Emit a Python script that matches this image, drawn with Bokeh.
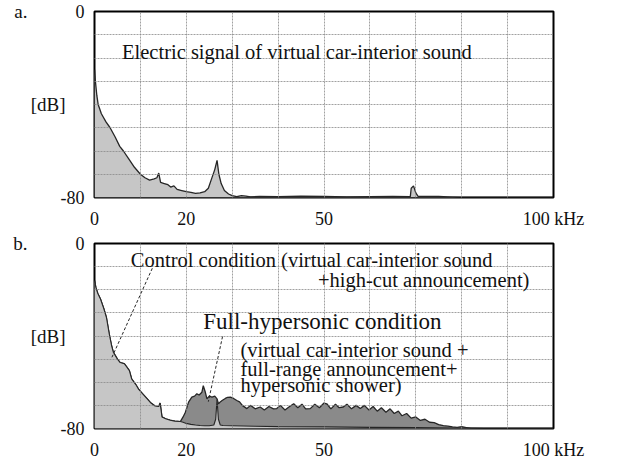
from bokeh.plotting import figure
from bokeh.layouts import column
from bokeh.models import FixedTicker, Label, Range1d, LinearAxis
from bokeh.embed import file_html
from bokeh.resources import INLINE

# ---------------- data ----------------
# Panel a: electric signal of virtual car-interior sound (kHz, dB)
freq_a = [0, 0.2, 0.5, 0.8, 1.5, 2.5, 3.4, 4.5, 5.5, 6.3, 7.5, 8.7, 10, 11, 12, 13, 13.6, 14, 14.4, 15.2,
          16, 16.6, 17.3, 18, 19, 20, 21, 22, 23, 24, 24.8, 25.5, 26.2, 26.7, 27.1, 27.6, 28.3, 29.2, 30, 31,
          32, 33, 34, 36, 40, 45, 50, 55, 60, 65, 68.8, 69, 69.5, 70, 70.5, 75, 78, 80, 100]
level_a = [-25, -30, -36, -40, -44, -47.5, -50, -54, -58, -60, -63.5, -67, -70, -71.5, -72.5, -72, -71.5, -69.5, -73.5, -74,
           -74.5, -75.5, -75, -76.5, -77, -77.5, -77.8, -78.2, -78, -77.5, -76, -72, -68, -64, -70, -74, -77, -78.5, -79.2, -79.6,
           -79.2, -79.4, -79.7, -79.5, -79.6, -79.4, -79.5, -79.7, -79.6, -79.5, -79.6, -76, -75, -78, -79.5, -79.5, -79.8, -80, -80]

# Panel b: full-hypersonic condition
freq_full = [0, 0.3, 0.7, 1.3, 2, 2.6, 3.2, 3.7, 4.1, 5, 5.6, 6.5, 7.1, 7.6, 8.1, 9, 9.6, 10.5, 11.4, 12.3, 13.2, 14,
             14.3, 14.7, 15.5, 16.5, 17.5, 18.7, 19.3, 19.8, 20.5, 21.2, 21.8, 22.3, 22.8, 23.4, 23.7, 24.1, 24.5, 25, 25.6, 26.2,
             26.7, 27, 27.4, 27.8, 28.5, 29, 29.6, 30.3, 31, 31.6, 32.2, 33.2, 34, 35, 36.1, 37, 38, 39, 39.7, 40.5,
             41.5, 42.5, 43.4, 44.3, 45.2, 46, 47, 48, 49, 50, 50.6, 51.5, 52.5, 53.3, 54.2, 55, 56, 57, 57.9, 58.8,
             59.8, 60.7, 61.6, 62.5, 63.5, 64.4, 65.3, 66.2, 67, 68, 69, 70, 71, 72, 73, 74, 75, 76, 77, 78,
             79, 80, 81, 82, 100]
level_full = [-16, -19, -21.5, -24, -28, -32, -39, -44, -47, -50, -51.5, -52, -53.6, -55, -58.6, -61, -63, -65, -67, -69, -70.3, -70.5,
              -69, -75, -75.8, -76.4, -76.8, -77, -75, -73, -68.6, -66.4, -66, -65, -65.5, -64.3, -61.5, -64, -67.2, -66, -66.4, -66,
              -67.2, -69.3, -68.5, -67.9, -67, -66.5, -66.4, -67, -67.9, -68.5, -70, -71.4, -70, -71.5, -70.7, -72, -70.5, -71.5, -71.4, -70,
              -72, -70.5, -69.3, -71, -69.5, -71.5, -71.4, -69.5, -71, -69, -69.3, -71.5, -69.5, -71, -70.7, -69.5, -71.5, -70, -71.4, -70,
              -72, -70.5, -72.5, -71, -73, -71.5, -73.5, -72.5, -74.5, -73.5, -75.5, -75, -76.5, -76, -77.3, -77.5, -78.3, -78.8, -79, -79.3,
              -79.5, -79.2, -79.6, -80, -80]

# Panel b: control condition
freq_ctrl = [0, 0.3, 0.7, 1.3, 2, 2.6, 3.2, 3.7, 4.1, 5, 5.6, 6.5, 7.1, 7.6, 8.1, 9, 9.6, 10.5, 11.4, 12.3, 13.2, 14,
             14.3, 14.7, 15.5, 16.5, 17.5, 18.7, 19.3, 20, 21, 22, 23, 24, 25, 26, 26.4, 26.7, 27, 27.4, 28, 30,
             35, 40, 50, 60, 70, 80, 85, 100]
level_ctrl = [-16, -19, -21.5, -24, -28, -32, -39, -44, -47, -50, -51.5, -52, -53.6, -55, -58.6, -61, -63, -65, -67, -69, -70.3, -70.5,
              -69, -75, -75.8, -76.4, -76.8, -77, -77.3, -77.8, -78.2, -78.5, -78.7, -78.8, -78.8, -78.5, -76, -67.5, -76, -78.5, -78.7, -78.8,
              -79, -79.2, -79.3, -79.5, -79.6, -79.8, -80, -80]

x_ticks = [0, 20, 50, 100]
x_tick_labels = ["0", "20", "50", "100 kHz"]
y_ticks = [-80, 0]
y_tick_labels = ["-80", "0"]
grid_x = [0, 10, 20, 30, 40, 50, 60, 70, 80, 90, 100]
grid_y = [-80, -70, -60, -50, -40, -30, -20, -10, 0]

FONT = "Liberation Serif"
LIGHT = "#c6c6c6"
DARK = "#8a8a8a"
EDGE = "#262626"
INK = "#111111"


def set_opt(obj, name, val):
    try:
        setattr(obj, name, val)
    except AttributeError:
        pass


def make_panel(height, top, bottom, letter):
    p = figure(width=620, height=height, x_range=Range1d(0, 100), y_range=Range1d(-80, 0),
               output_backend="svg", toolbar_location=None,
               min_border_left=94, min_border_right=67, min_border_top=top, min_border_bottom=bottom)
    p.background_fill_color = "white"
    p.border_fill_color = "white"
    p.outline_line_color = "black"
    p.outline_line_width = 2
    for ax in (p.xaxis[0], p.yaxis[0]):
        ax.axis_line_color = None
        ax.major_tick_line_color = None
        ax.minor_tick_line_color = None
        ax.major_label_text_font = FONT
        ax.major_label_text_font_size = "18px"
        ax.major_label_text_color = INK
    p.xaxis.ticker = FixedTicker(ticks=x_ticks)
    p.xaxis.major_label_overrides = {t: l for t, l in zip(x_ticks, x_tick_labels)}
    p.xaxis.major_label_standoff = 5
    p.yaxis.ticker = FixedTicker(ticks=y_ticks)
    p.yaxis.major_label_overrides = {t: l for t, l in zip(y_ticks, y_tick_labels)}
    p.yaxis.major_label_standoff = 4
    # "[dB]" as the y-axis title, written horizontally
    yax = p.yaxis[0]
    yax.axis_label = "[dB]"
    yax.axis_label_text_font = FONT
    yax.axis_label_text_font_size = "19px"
    yax.axis_label_text_font_style = "normal"
    yax.axis_label_text_color = INK
    yax.axis_label_standoff = -8
    set_opt(yax, "axis_label_orientation", "horizontal")
    # panel letter on an outer, tick-less axis
    lax = LinearAxis(ticker=FixedTicker(ticks=[]), axis_label=letter,
                     axis_line_color=None, major_tick_line_color=None, minor_tick_line_color=None,
                     major_label_text_font_size="0px", major_label_standoff=0,
                     axis_label_text_font=FONT, axis_label_text_font_size="19px",
                     axis_label_text_font_style="normal", axis_label_text_color=INK,
                     axis_label_standoff=0)
    set_opt(lax, "axis_label_orientation", "horizontal")
    set_opt(lax, "axis_label_align", "end")
    p.add_layout(lax, "left")
    p.xgrid.ticker = FixedTicker(ticks=grid_x)
    p.ygrid.ticker = FixedTicker(ticks=grid_y)
    p.grid.grid_line_color = "#8a8a8a"
    p.grid.grid_line_width = 1
    p.grid.grid_line_dash = "2 1"
    p.grid.grid_line_alpha = 0.8
    p.grid.level = "annotation"
    return p


# ---------- panel a ----------
pa = make_panel(231, 11, 26, "a.")
pa.varea(x=freq_a, y1=-80, y2=level_a, fill_color=LIGHT)
pa.line(x=freq_a, y=level_a, line_color=EDGE, line_width=1.3)
pa.add_layout(Label(x=6.0, y=-17.3, text="Electric signal of virtual car-interior sound",
                    text_align="left", text_baseline="middle", text_font=FONT,
                    text_font_size="20.5px", text_color=INK))

# ---------- panel b ----------
pb = make_panel(231, 12, 32, "b.")
pb.varea(x=freq_full, y1=-80, y2=level_full, fill_color=DARK)
pb.line(x=freq_full, y=level_full, line_color=EDGE, line_width=1.3)
pb.varea(x=freq_ctrl, y1=-80, y2=level_ctrl, fill_color=LIGHT)
pb.line(x=freq_ctrl, y=level_ctrl, line_color=EDGE, line_width=1.1)

# leader lines from the captions to the spectra
pb.segment(x0=[12.6, 27.9], y0=[-10.7, -40.2], x1=[3.8, 24.8], y1=[-49.2, -68.4],
           line_color=EDGE, line_width=1, line_dash="3 2")

texts_b = [
    ("Control condition (virtual car-interior sound", 7.9, -7.3, "20.5px"),
    ("+high-cut announcement)", 48.7, -15.6, "20.5px"),
    ("Full-hypersonic condition", 23.7, -33.8, "23px"),
    ("(virtual car-interior sound +", 31.8, -46.2, "20.5px"),
    ("full-range announcement+", 31.8, -54.1, "20.5px"),
    ("hypersonic shower)", 31.8, -61.4, "20.5px"),
]
for t, x, y, fs in texts_b:
    pb.add_layout(Label(x=x, y=y, text=t, text_align="left", text_baseline="middle",
                        text_font=FONT, text_font_size=fs, text_color=INK))

layout = column(pa, pb, spacing=0)
open("out.html", "w").write(file_html(layout, INLINE))
